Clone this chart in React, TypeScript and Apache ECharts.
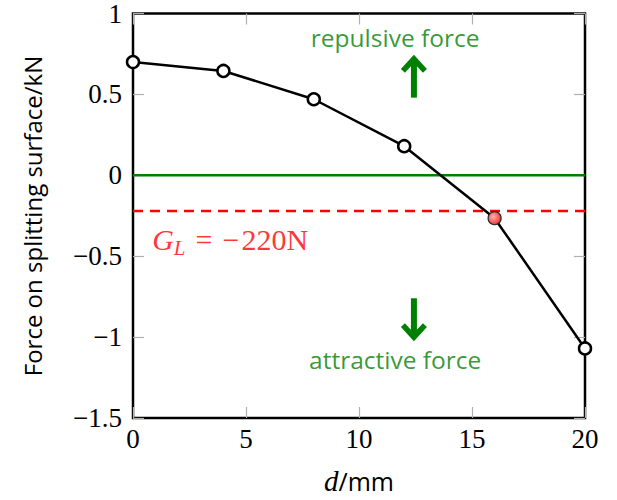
import React, { useEffect, useRef } from "react";
import * as echarts from "echarts";

// Data
const dValues = [0, 4, 8, 12, 16, 20];
const forceValues = [0.7, 0.645, 0.47, 0.18, -0.265, -1.07];
const highlightIndex = 4;
const xRange = [0, 20];
const yRange = [-1.5, 1];
const xTickStep = 5;
const yTickStep = 0.5;
const zeroForce = 0;
const limitForce = -0.22;
const limitValueText = "220";
// arrows: [d, fromForce, toForce]
const arrowUp = [12.43, 0.48, 0.72];
const arrowDown = [12.43, -0.76, -1.0];
// annotation texts: [d, force]
const repulsivePos = [11.6, 0.85];
const attractivePos = [11.6, -1.14];
const limitLabelPos = [0.85, -0.395];

const GREEN = "#008000";
const RED = "#ff0000";
const SERIF = "'Liberation Serif', 'DejaVu Serif', serif";
const SANS = "'Open Sans', 'DejaVu Sans', sans-serif";

function fmt(v: number) {
  return v < 0 ? "\u2212" + Math.abs(v) : String(v);
}

export default function App() {
  const ref = useRef<HTMLDivElement>(null);
  useEffect(() => {
    if (!ref.current) return;
    const chart = echarts.init(ref.current, undefined, { renderer: "svg" });
    const tickStyle = { show: true, inside: true, length: 11, lineStyle: { color: "#b0b0b0", width: 1.2 } };
    const option: any = {
      animation: false,
      backgroundColor: "#ffffff",
      grid: {
        left: 133,
        right: 32,
        top: 13,
        bottom: 80,
        show: true,
        borderColor: "#000",
        borderWidth: 2.5,
        backgroundColor: "transparent",
      },
      graphic: [
        {
          type: "text",
          x: 32,
          y: 216,
          rotation: Math.PI / 2,
          style: {
            text: "Force on splitting surface/kN",
            fontFamily: SANS,
            fontSize: 24,
            fill: "#000",
            align: "center",
            verticalAlign: "middle",
          },
        },
      ],
      xAxis: [
        {
          type: "value",
          min: xRange[0],
          max: xRange[1],
          interval: xTickStep,
          axisLine: { show: false, onZero: false },
          splitLine: { show: false },
          axisTick: tickStyle,
          axisLabel: { color: "#000", fontFamily: SERIF, fontSize: 27, margin: 7, formatter: fmt },
          name: "{i|d}{s|/mm}",
          nameLocation: "middle",
          nameGap: 48,
          nameTextStyle: {
            rich: {
              i: { fontFamily: SERIF, fontStyle: "italic", fontSize: 29, color: "#000" },
              s: { fontFamily: SANS, fontSize: 25, color: "#000" },
            },
          },
        },
        {
          type: "value",
          position: "top",
          min: xRange[0],
          max: xRange[1],
          interval: xTickStep,
          axisLine: { show: false, onZero: false },
          splitLine: { show: false },
          axisTick: tickStyle,
          axisLabel: { show: false },
        },
      ],
      yAxis: [
        {
          type: "value",
          min: yRange[0],
          max: yRange[1],
          interval: yTickStep,
          axisLine: { show: false, onZero: false },
          splitLine: { show: false },
          axisTick: tickStyle,
          axisLabel: { color: "#000", fontFamily: SERIF, fontSize: 27, margin: 11, formatter: fmt },
        },
        {
          type: "value",
          position: "right",
          min: yRange[0],
          max: yRange[1],
          interval: yTickStep,
          axisLine: { show: false, onZero: false },
          splitLine: { show: false },
          axisTick: tickStyle,
          axisLabel: { show: false },
        },
      ],
      series: [
        {
          type: "line",
          data: [[xRange[0], zeroForce], [xRange[1], zeroForce]],
          symbol: "none",
          lineStyle: { color: GREEN, width: 2.5 },
          z: 1,
          silent: true,
        },
        {
          type: "line",
          data: [[xRange[0], limitForce], [xRange[1], limitForce]],
          symbol: "none",
          lineStyle: { color: RED, width: 2.5, type: [10, 7] },
          z: 2,
          silent: true,
        },
        {
          type: "line",
          data: dValues.map((d, i) => {
            if (i === highlightIndex) {
              return {
                value: [d, forceValues[i]],
                symbolSize: 13,
                itemStyle: {
                  color: new echarts.graphic.RadialGradient(0.4, 0.4, 0.6, [
                    { offset: 0, color: "#ffb0b0" },
                    { offset: 1, color: "#f03838" },
                  ]),
                  borderColor: "#222",
                  borderWidth: 1.2,
                },
              };
            }
            return [d, forceValues[i]];
          }),
          symbol: "circle",
          symbolSize: 12,
          itemStyle: { color: "#fff", borderColor: "#000", borderWidth: 2.5 },
          lineStyle: { color: "#000", width: 2.5 },
          z: 3,
        },
        {
          type: "custom",
          data: [arrowUp, arrowDown],
          z: 4,
          silent: true,
          renderItem: (params: any, api: any) => {
            const d = api.value(0);
            const from = api.coord([d, api.value(1)]);
            const to = api.coord([d, api.value(2)]);
            const dir = to[1] < from[1] ? -1 : 1;
            const hw = 11;
            const hh = 12;
            return {
              type: "group",
              children: [
                {
                  type: "line",
                  shape: { x1: from[0], y1: from[1], x2: to[0], y2: to[1] - dir * 2 },
                  style: { stroke: GREEN, lineWidth: 6 },
                },
                {
                  type: "polyline",
                  shape: {
                    points: [
                      [to[0] - hw, to[1] - dir * hh],
                      [to[0], to[1]],
                      [to[0] + hw, to[1] - dir * hh],
                    ],
                  },
                  style: { stroke: GREEN, lineWidth: 5.5, fill: "none", lineJoin: "miter" },
                },
              ],
            };
          },
        },
        {
          type: "scatter",
          symbolSize: 0,
          z: 5,
          silent: true,
          data: [
            { value: repulsivePos, label: { formatter: "repulsive force" } },
            { value: attractivePos, label: { formatter: "attractive force" } },
          ],
          label: {
            show: true,
            position: "inside",
            color: GREEN,
            fontFamily: SANS,
            fontSize: 24.5,
          },
        },
        {
          type: "scatter",
          symbolSize: 0,
          z: 5,
          silent: true,
          data: [limitLabelPos],
          label: {
            show: true,
            position: "right",
            distance: 0,
            formatter: "{g|G}{sub|L}{eq|=}{m|\u2212}{t|" + limitValueText + "}{n|N}",
            rich: {
              g: { fontFamily: SERIF, fontStyle: "italic", fontSize: 30, color: RED },
              sub: { fontFamily: SERIF, fontStyle: "italic", fontSize: 21, color: RED, verticalAlign: "bottom", padding: [17, 0, 0, 0] },
              eq: { fontFamily: SERIF, fontSize: 30, color: RED, padding: [0, 10, 0, 10] },
              m: { fontFamily: SERIF, fontSize: 30, color: RED, padding: [0, 2, 0, 0] },
              t: { fontFamily: SERIF, fontSize: 30, color: RED },
              n: { fontFamily: SERIF, fontSize: 30, color: RED },
            },
          },
        },
      ],
    };
    chart.setOption(option);
    return () => chart.dispose();
  }, []);
  return <div ref={ref} style={{ position: "fixed", left: 0, top: 0, width: 617, height: 500 }} />;
}
